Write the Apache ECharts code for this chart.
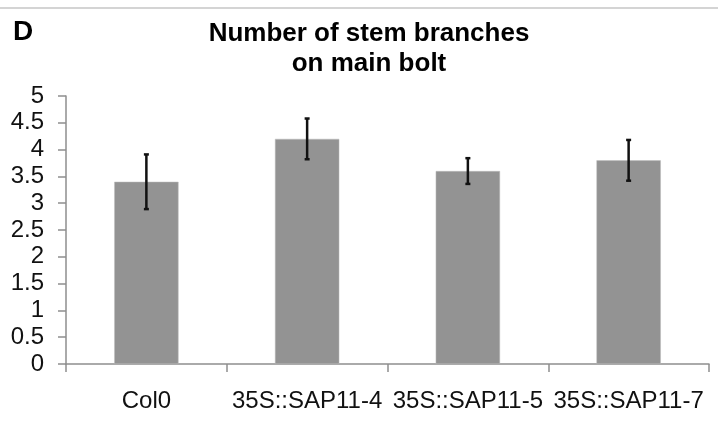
<!DOCTYPE html>
<html>
<head>
<meta charset="utf-8">
<script src="https://cdn.jsdelivr.net/npm/echarts@6/dist/echarts.min.js"></script>
<style>
  html, body { margin: 0; padding: 0; background: #fff; }
  #chart { width: 718px; height: 437px; }
</style>
</head>
<body>
<div id="chart"></div>
<script>
const categories = ["Col0", "35S::SAP11-4", "35S::SAP11-5", "35S::SAP11-7"];
const means = [3.4, 4.2, 3.6, 3.8];
const errors = [0.51, 0.38, 0.24, 0.38];
const yTicks = [0, 0.5, 1, 1.5, 2, 2.5, 3, 3.5, 4, 4.5, 5];

const chart = echarts.init(document.getElementById("chart"));

const errData = means.map((m, i) => [i, m - errors[i], m + errors[i]]);

const option = {
  animation: false,
  textStyle: { fontFamily: "Liberation Sans, Arial, sans-serif" },
  graphic: [
    {
      type: "rect",
      shape: { x: 0, y: 7, width: 718, height: 2 },
      style: { fill: "#d4d4d4" },
    },
  ],
  title: [
    {
      text: "D",
      left: 8,
      top: 13,
      textStyle: { fontSize: 28, fontWeight: "bold", color: "#000" },
    },
    {
      text: "Number of stem branches\non main bolt",
      left: 364,
      top: 14,
      textAlign: "center",
      textStyle: {
        fontSize: 26,
        fontWeight: "bold",
        color: "#000",
        lineHeight: 30,
      },
    },
  ],
  grid: { left: 66, right: 9, top: 96, bottom: 73 },
  xAxis: {
    type: "category",
    data: categories,
    axisLine: { lineStyle: { color: "#8e8e8e", width: 1.5 } },
    axisTick: { show: true, length: 8, lineStyle: { color: "#8e8e8e", width: 1.5 } },
    axisLabel: { fontSize: 24, color: "#111", margin: 25, interval: 0 },
  },
  yAxis: {
    type: "value",
    min: yTicks[0],
    max: yTicks[yTicks.length - 1],
    interval: 0.5,
    axisLine: { show: true, lineStyle: { color: "#8e8e8e", width: 1.5 } },
    axisTick: { show: true, length: 8, lineStyle: { color: "#8e8e8e", width: 1.5 } },
    splitLine: { show: false },
    axisLabel: { fontSize: 24, color: "#111", margin: 22 },
  },
  series: [
    {
      type: "bar",
      data: means,
      barCategoryGap: "60%",
      itemStyle: { color: "#939393", borderColor: "#bdbdbd", borderWidth: 0.5 },
    },
    {
      type: "custom",
      data: errData,
      z: 10,
      renderItem: (params, api) => {
        const lo = api.coord([api.value(0), api.value(1)]);
        const hi = api.coord([api.value(0), api.value(2)]);
        const cap = 2.5;
        const style = { stroke: "#111", lineWidth: 2.5 };
        return {
          type: "group",
          children: [
            { type: "line", shape: { x1: hi[0], y1: hi[1], x2: lo[0], y2: lo[1] }, style },
            { type: "line", shape: { x1: hi[0] - cap, y1: hi[1], x2: hi[0] + cap, y2: hi[1] }, style },
            { type: "line", shape: { x1: lo[0] - cap, y1: lo[1], x2: lo[0] + cap, y2: lo[1] }, style },
          ],
        };
      },
    },
  ],
};

chart.setOption(option);
</script>
</body>
</html>
